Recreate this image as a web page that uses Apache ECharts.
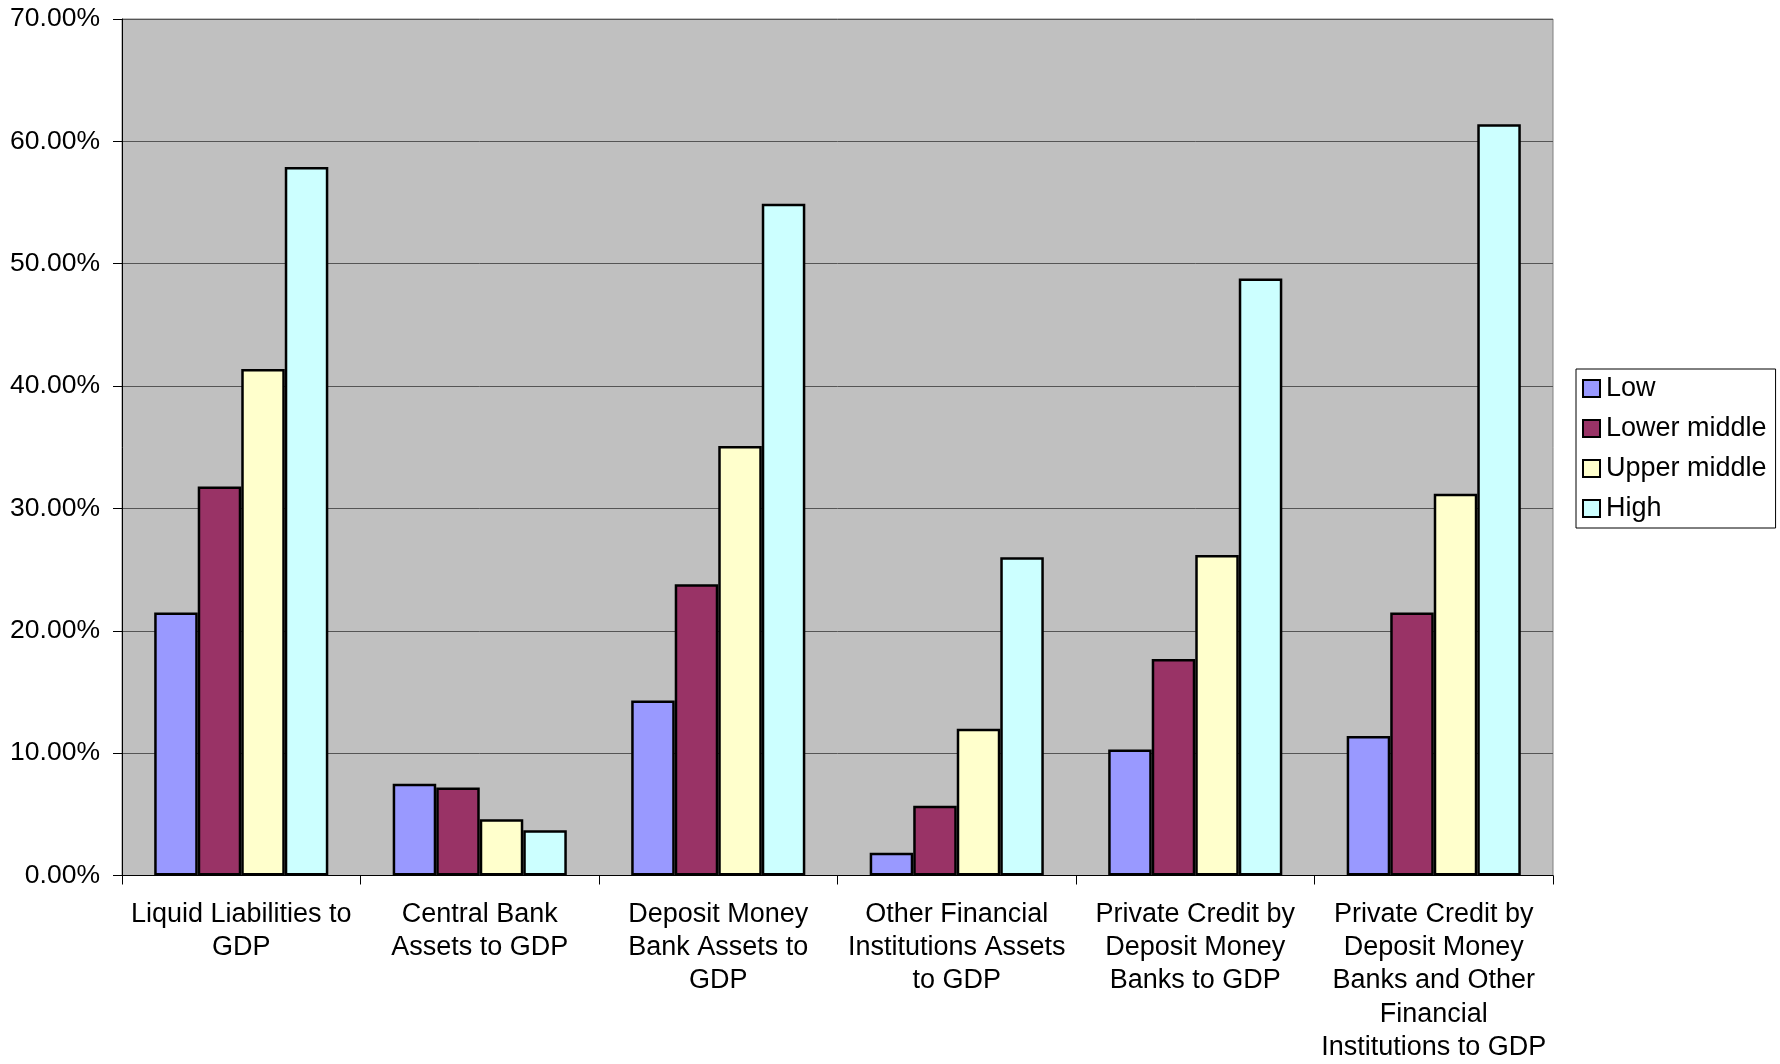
<!DOCTYPE html>
<html>
<head>
<meta charset="utf-8">
<script src="https://cdn.jsdelivr.net/npm/echarts@6/dist/echarts.min.js"></script>
<style>
html,body{margin:0;padding:0;background:#fff;}
#chart{width:1780px;height:1064px;}
</style>
</head>
<body>
<div id="chart"></div>
<script>
const categories = [
  "Liquid Liabilities to\nGDP",
  "Central Bank\nAssets to GDP",
  "Deposit Money\nBank Assets to\nGDP",
  "Other Financial\nInstitutions Assets\nto GDP",
  "Private Credit by\nDeposit Money\nBanks to GDP",
  "Private Credit by\nDeposit Money\nBanks and Other\nFinancial\nInstitutions to GDP"
];
const seriesNames = ["Low", "Lower middle", "Upper middle", "High"];
const low = [21.5, 7.5, 14.3, 1.85, 10.3, 11.4];
const lowerMiddle = [31.8, 7.2, 23.8, 5.7, 17.7, 21.5];
const upperMiddle = [41.4, 4.6, 35.1, 12.0, 26.2, 31.2];
const high = [57.9, 3.7, 54.9, 26.0, 48.8, 61.4];
const yTicks = { min: 0, max: 70, interval: 10 };
const colors = ["#9999FF", "#993366", "#FFFFCC", "#CCFFFF"];

const seriesData = [low, lowerMiddle, upperMiddle, high];
const font = "'Liberation Sans', Arial, sans-serif";

const chart = echarts.init(document.getElementById('chart'), null, { renderer: 'canvas' });
chart.setOption({
  backgroundColor: '#ffffff',
  animation: false,
  textStyle: { fontFamily: font },
  grid: {
    left: 122, top: 19, width: 1431, height: 859,
    show: true, backgroundColor: '#C0C0C0', borderColor: '#808080', borderWidth: 1,
    containLabel: false
  },
  legend: {
    orient: 'vertical',
    left: 1576, top: 369,
    padding: [6, 9, 6, 6],
    itemWidth: 17, itemHeight: 17, itemGap: 13,
    borderColor: '#000', borderWidth: 1,
    icon: 'rect',
    textStyle: { fontSize: 27, lineHeight: 27, color: '#000', fontFamily: font, padding: [0, 0, 0, 1] },
    data: seriesNames,
    selectedMode: false
  },
  xAxis: {
    type: 'category',
    data: categories,
    axisLine: { show: true, lineStyle: { color: '#000', width: 1 } },
    axisTick: { show: true, length: 9, alignWithLabel: false, lineStyle: { color: '#000' } },
    axisLabel: {
      interval: 0, margin: 22, fontSize: 27, lineHeight: 33.3, color: '#000',
      fontFamily: font, align: 'center'
    },
    splitLine: { show: false }
  },
  yAxis: {
    type: 'value',
    min: yTicks.min, max: yTicks.max, interval: yTicks.interval,
    axisLine: { show: true, lineStyle: { color: '#000', width: 1 } },
    axisTick: { show: true, length: 9, lineStyle: { color: '#000' } },
    axisLabel: {
      margin: 22, fontSize: 26.5, color: '#000', fontFamily: font,
      formatter: v => v.toFixed(2) + '%'
    },
    splitLine: { show: true, lineStyle: { color: '#555555', width: 1 } }
  },
  series: seriesNames.map((name, i) => ({
    name: name,
    type: 'bar',
    data: seriesData[i],
    barGap: '0%',
    barCategoryGap: '27%',
    itemStyle: { color: colors[i], borderColor: '#000', borderWidth: 2.5 }
  }))
});
</script>
</body>
</html>
